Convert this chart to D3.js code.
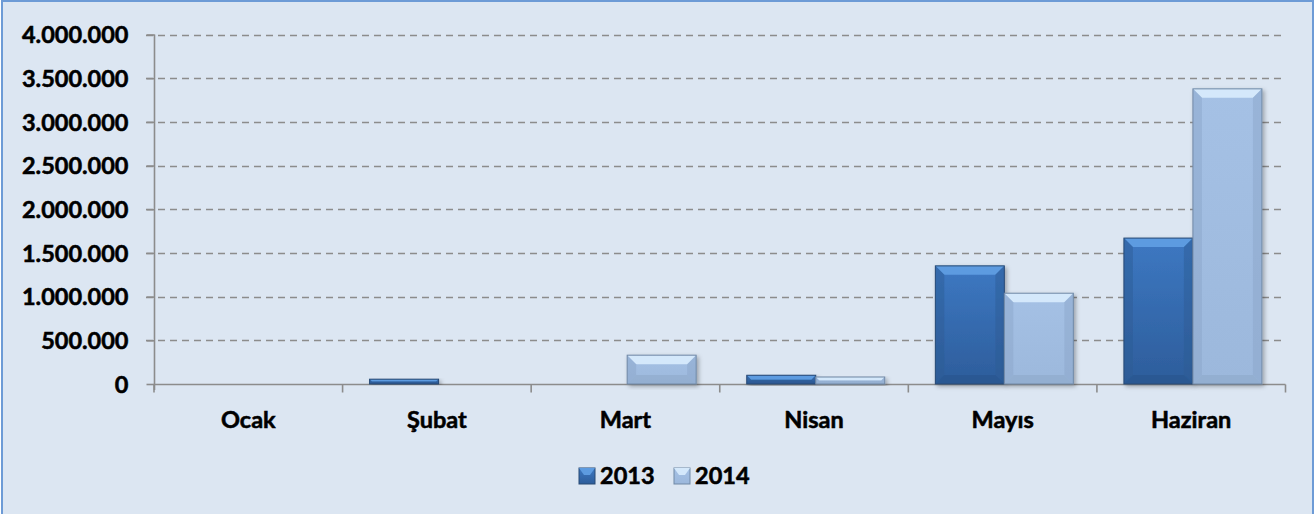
<!DOCTYPE html>
<html><head><meta charset="utf-8">
<script src="https://cdn.jsdelivr.net/npm/d3@7"></script>
<style>
html,body{margin:0;padding:0;background:#fff;}
svg text{font-family:Lato,"Noto Sans",sans-serif;font-weight:bold;fill:#000;stroke:#000;stroke-width:0.55px;}
</style></head>
<body><div id="chart"></div>
<script>
const categories = ["Ocak","Şubat","Mart","Nisan","Mayıs","Haziran"];
const seriesNames = ["2013","2014"];
const values2013 = [0, 55000, 0, 100000, 1352000, 1670000];
const values2014 = [0, 0, 330000, 80000, 1039000, 3378000];
const yTicks = [0,500000,1000000,1500000,2000000,2500000,3000000,3500000,4000000];

const W = 1315, H = 514;
const svg = d3.select("#chart").append("svg").attr("width", W).attr("height", H);

const defs = svg.append("defs");
const f = defs.append("filter").attr("id","sh").attr("x","-10%").attr("y","-10%").attr("width","130%").attr("height","130%");
f.append("feDropShadow").attr("dx",2).attr("dy",2).attr("stdDeviation",2).attr("flood-color","#000").attr("flood-opacity",0.3);

const pal = {
  "2013": {face0:"#3d78c2", face1:"#2d5d9b", top:"#5d9be0", side:"#2c5a92", bottom:"#2a5388", stroke:"#284a75"},
  "2014": {face0:"#a5c1e5", face1:"#9cb8dc", top:"#d4e8fb", side:"#8aa5c8", bottom:"#8aa3c4", stroke:"#7189a6"}
};
seriesNames.forEach(s=>{
  const g = defs.append("linearGradient").attr("id","g"+s).attr("x1",0).attr("y1",0).attr("x2",0).attr("y2",1);
  g.append("stop").attr("offset","0%").attr("stop-color",pal[s].face0);
  g.append("stop").attr("offset","100%").attr("stop-color",pal[s].face1);
});

// background + border
svg.append("rect").attr("x",2).attr("y",1).attr("width",W-4).attr("height",H+10)
  .attr("fill","#dce6f2").attr("stroke","#6d9bd6").attr("stroke-width",2);

const x0 = d3.scaleBand().domain(categories).range([154, 1285.5]).paddingInner(0).paddingOuter(0);
const x1 = d3.scaleBand().domain(seriesNames).range([27, 27+138]);
const y = d3.scaleLinear().domain([0,4000000]).range([384, 34.5]);

// gridlines
svg.append("g").selectAll("line").data(yTicks.filter(d=>d>0)).join("line")
  .attr("x1",146).attr("x2",1285.5)
  .attr("y1",d=>Math.round(y(d))+0.5).attr("y2",d=>Math.round(y(d))+0.5)
  .attr("stroke","#8c8c8c").attr("stroke-width",1.6).attr("stroke-dasharray","7,5");

// y axis
const yAxis = d3.axisLeft(y).tickValues(yTicks).tickSize(8).tickPadding(18)
  .tickFormat(d=> d3.format(",")(d).replace(/,/g,"."));
const ya = svg.append("g").attr("transform","translate(154.5,0)").call(yAxis);
ya.select(".domain").attr("stroke","#8c8c8c").attr("stroke-width",1.6).attr("d","M0,"+y(4000000)+"V"+(y(0)+6));
ya.selectAll(".tick line").attr("stroke","#8c8c8c").attr("stroke-width",1.6);
ya.selectAll(".tick text").attr("font-size","23.5px").attr("font-family","Lato").attr("font-weight","bold").attr("fill","#000").attr("dy","0.35em");

// x axis
const xa = svg.append("g").attr("transform","translate(0,"+(Math.round(y(0))+0.5)+")");
xa.append("line").attr("x1",154).attr("x2",1285.5).attr("stroke","#8c8c8c").attr("stroke-width",1.6);
xa.selectAll("line.t").data(categories.concat(["__end"])).join("line").attr("class","t")
  .attr("x1",(d,i)=> i<categories.length ? x0(d) : x0.range()[1])
  .attr("x2",(d,i)=> i<categories.length ? x0(d) : x0.range()[1])
  .attr("y1",0).attr("y2",8).attr("stroke","#8c8c8c").attr("stroke-width",1.6);
xa.selectAll("text").data(categories).join("text")
  .attr("x",d=>x0(d)+x0.bandwidth()/2).attr("y",43)
  .attr("text-anchor","middle").attr("font-size","23.5px").text(d=>d);

// bars
const data = [];
categories.forEach((c,i)=>{
  data.push({cat:c, s:"2013", v:values2013[i]});
  data.push({cat:c, s:"2014", v:values2014[i]});
});
const bars = svg.append("g");
data.filter(d=>d.v>0).forEach(d=>{
  const bx = x0(d.cat)+x1(d.s), bw = x1.bandwidth();
  const by = y(d.v), bh = y(0)-y(d.v);
  const p = pal[d.s];
  const g = bars.append("g").attr("filter","url(#sh)");
  const b = Math.min(9, bh/2, bw/2);
  g.append("rect").attr("x",bx).attr("y",by).attr("width",bw).attr("height",bh).attr("fill","url(#g"+d.s+")");
  const L=bx, R=bx+bw, T=by, B=by+bh;
  g.append("path").attr("d",`M${L},${T}L${R},${T}L${R-b},${T+b}L${L+b},${T+b}Z`).attr("fill",p.top);
  g.append("path").attr("d",`M${L},${T}L${L+b},${T+b}L${L+b},${B-b}L${L},${B}Z`).attr("fill",p.side).attr("opacity",0.45);
  g.append("path").attr("d",`M${R},${T}L${R-b},${T+b}L${R-b},${B-b}L${R},${B}Z`).attr("fill",p.side).attr("opacity",0.45);
  g.append("path").attr("d",`M${L},${B}L${L+b},${B-b}L${R-b},${B-b}L${R},${B}Z`).attr("fill",p.bottom).attr("opacity",0.45);
  g.append("rect").attr("x",bx).attr("y",by).attr("width",bw).attr("height",bh).attr("fill","none").attr("stroke",p.stroke).attr("stroke-width",1);
});

// legend
const leg = svg.append("g");
const legX = {"2013":579, "2014":674};
seriesNames.forEach(s=>{
  const p = pal[s];
  const lx = legX[s], ly = 468, sz = 16, b = 5;
  const g = leg.append("g");
  g.append("rect").attr("x",lx).attr("y",ly).attr("width",sz).attr("height",sz).attr("fill","url(#g"+s+")").attr("stroke",p.stroke).attr("stroke-width",1);
  g.append("path").attr("d",`M${lx},${ly}L${lx+sz},${ly}L${lx+sz-b},${ly+b+2}L${lx+b},${ly+b+2}Z`).attr("fill",p.top);
  leg.append("text").attr("x",lx+sz+5).attr("y",484).attr("font-size","23.5px").text(s);
});
</script></body></html>
